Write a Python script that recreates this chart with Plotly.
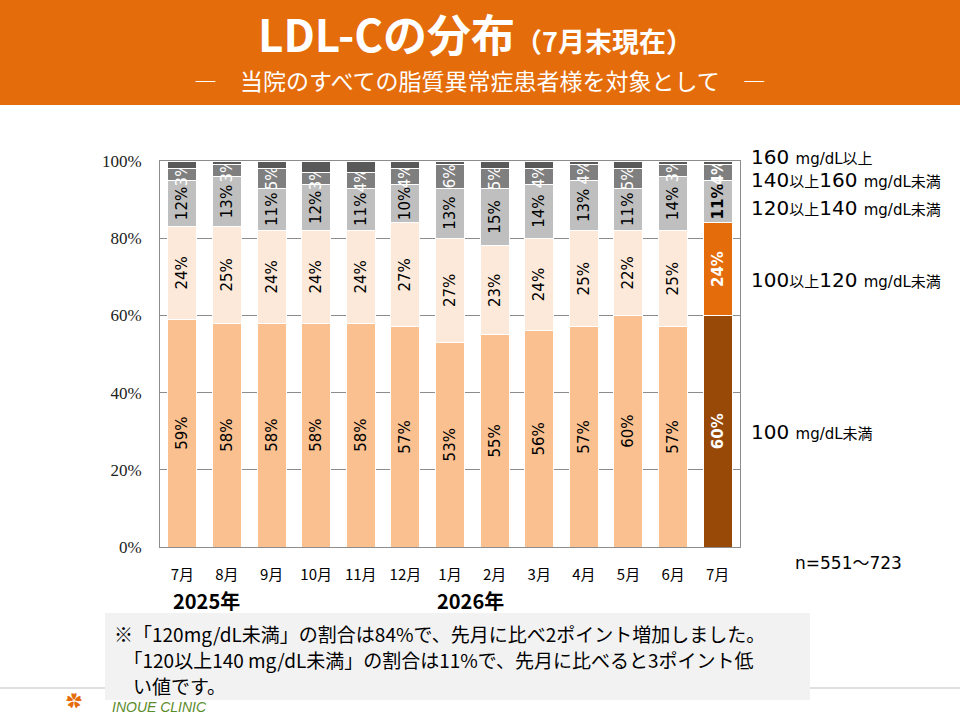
import plotly.graph_objects as go

# data
months = ["7月", "8月", "9月", "10月", "11月", "12月", "1月", "2月", "3月", "4月", "5月", "6月", "7月"]
lt100 = [59, 58, 58, 58, 58, 57, 53, 55, 56, 57, 60, 57, 60]
r100_120 = [24, 25, 24, 24, 24, 27, 27, 23, 24, 25, 22, 25, 24]
r120_140 = [12, 13, 11, 12, 11, 10, 13, 15, 14, 13, 11, 14, 11]
r140_160 = [3, 3, 5, 3, 4, 4, 6, 5, 4, 4, 5, 3, 4]
ge160 = [2, 1, 2, 3, 3, 2, 1, 2, 2, 1, 2, 1, 1]

series_names = ["100 mg/dL未満", "100以上120 mg/dL未満", "120以上140 mg/dL未満",
                "140以上160 mg/dL未満", "160 mg/dL以上"]

W, H = 960, 720
L, R, T, B = 160, 740, 161, 547
JP = "Noto Sans CJK JP"
VER = "DejaVu Sans, Noto Sans CJK JP"


def px(x):
    return (x - L) / (R - L)


def py(y):
    return (B - y) / (B - T)


n = len(months)
last = n - 1
xs = list(range(n))

# colours: normal months / current month highlight
segs = [
    (lt100, "#FAC090", "#984807", "#000000", "#FFFFFF"),
    (r100_120, "#FDE9D9", "#E46C0A", "#000000", "#FFFFFF"),
    (r120_140, "#BFBFBF", "#BFBFBF", "#000000", "#000000"),
    (r140_160, "#7F7F7F", "#7F7F7F", "#FFFFFF", "#FFFFFF"),
    (ge160, "#595959", "#595959", "#FFFFFF", "#FFFFFF"),
]

fig = go.Figure()
for k, (vals, c, c_last, tc, tc_last) in enumerate(segs):
    colors = [c] * last + [c_last]
    tcolors = [tc] * last + [tc_last]
    if k == 4:
        texts = [""] * n
    else:
        texts = [f"{v}%" for v in vals[:-1]] + [f"<b>{vals[-1]}%</b>"]
    fig.add_trace(go.Bar(
        x=xs, y=vals, name=series_names[k], width=0.65,
        marker=dict(color=colors, line=dict(color="#FFFFFF", width=1)),
        text=texts, texttemplate="%{text}", textposition="inside",
        insidetextanchor="middle", textangle=-90,
        textfont=dict(family=VER, size=15, color=tcolors),
        constraintext="none", showlegend=False, hoverinfo="skip",
    ))

fig.update_layout(
    width=W, height=H, barmode="stack",
    margin=dict(l=L, r=W - R, t=T, b=H - B),
    paper_bgcolor="#FFFFFF", plot_bgcolor="#FFFFFF",
    uniformtext=dict(minsize=15, mode="show"),
    xaxis=dict(range=[-0.5, n - 0.5], tickvals=xs, ticktext=months,
               showgrid=False, showline=True, linecolor="#8C8C8C", linewidth=1,
               mirror=True, ticks="", ticklabelstandoff=14,
               tickfont=dict(family=JP, size=15, color="#000000")),
    yaxis=dict(range=[0, 100], tickvals=[0, 20, 40, 60, 80, 100],
               ticktext=["0%", "20%", "40%", "60%", "80%", "100%"],
               showgrid=True, gridcolor="#8C8C8C", gridwidth=1,
               showline=True, linecolor="#8C8C8C", mirror=True,
               ticks="", ticklabelstandoff=14, zeroline=False,
               tickfont=dict(family="Liberation Serif", size=17, color="#222222")),
)

shapes = [
    # orange header band
    dict(type="rect", xref="paper", yref="paper", x0=px(0), x1=px(W),
         y0=py(105), y1=py(0), fillcolor="#E46C0A", line=dict(width=0), layer="below"),
    # footer rule
    dict(type="line", xref="paper", yref="paper", x0=px(0), x1=px(W),
         y0=py(688), y1=py(688), line=dict(color="#BFBFBF", width=1)),
    # note box
    dict(type="rect", xref="paper", yref="paper", x0=px(105), x1=px(810),
         y0=py(700), y1=py(613), fillcolor="#F2F2F2", line=dict(width=0)),
]
fig.update_layout(shapes=shapes)


def ann(text, x, y, size, color="#000000", xanchor="center", family=JP, **kw):
    fig.add_annotation(text=text, x=px(x), y=py(y), xref="paper", yref="paper",
                       xanchor=xanchor, yanchor="middle", showarrow=False,
                       font=dict(family=family, size=size, color=color), **kw)


ann("<b>LDL-Cの分布<span style='font-size:27px'>（7月末現在）</span></b>",
    475, 33, 44, "#FFFFFF")
ann("―　当院のすべての脂質異常症患者様を対象として　―", 480, 80, 23, "#FFFFFF")

# right-hand legend labels
sm = "<span style='font-size:15px'>"
legend_rows = [
    (f"160 {sm}mg/dL以上</span>", 157),
    (f"140{sm}以上</span>160 {sm}mg/dL未満</span>", 180),
    (f"120{sm}以上</span>140 {sm}mg/dL未満</span>", 208),
    (f"100{sm}以上</span>120 {sm}mg/dL未満</span>", 280),
    (f"100 {sm}mg/dL未満</span>", 432),
]
for txt, y in legend_rows:
    ann(txt, 749, y, 20, xanchor="left", family=VER)

ann("n=551～723", 848, 563, 17, family=VER)
ann("<b>2025年</b>", 206, 600, 20)
ann("<b>2026年</b>", 470, 600, 20)

note = ["※「120mg/dL未満」の割合は84%で、先月に比べ2ポイント増加しました。",
        "　「120以上140 mg/dL未満」の割合は11%で、先月に比べると3ポイント低",
        "　い値です。"]
for i, line in enumerate(note):
    ann(line, 112, 633 + 26 * i, 19, xanchor="left")

ann("<i>INOUE CLINIC</i>", 110, 707, 14, "#5B8C2A", xanchor="left",
    family="Liberation Sans Narrow, Liberation Sans")
ann("✿", 74, 700, 16, "#E46C0A")

fig.write_html("out.html", config={"displayModeBar": False},
               post_script="document.body.style.margin='0';")
